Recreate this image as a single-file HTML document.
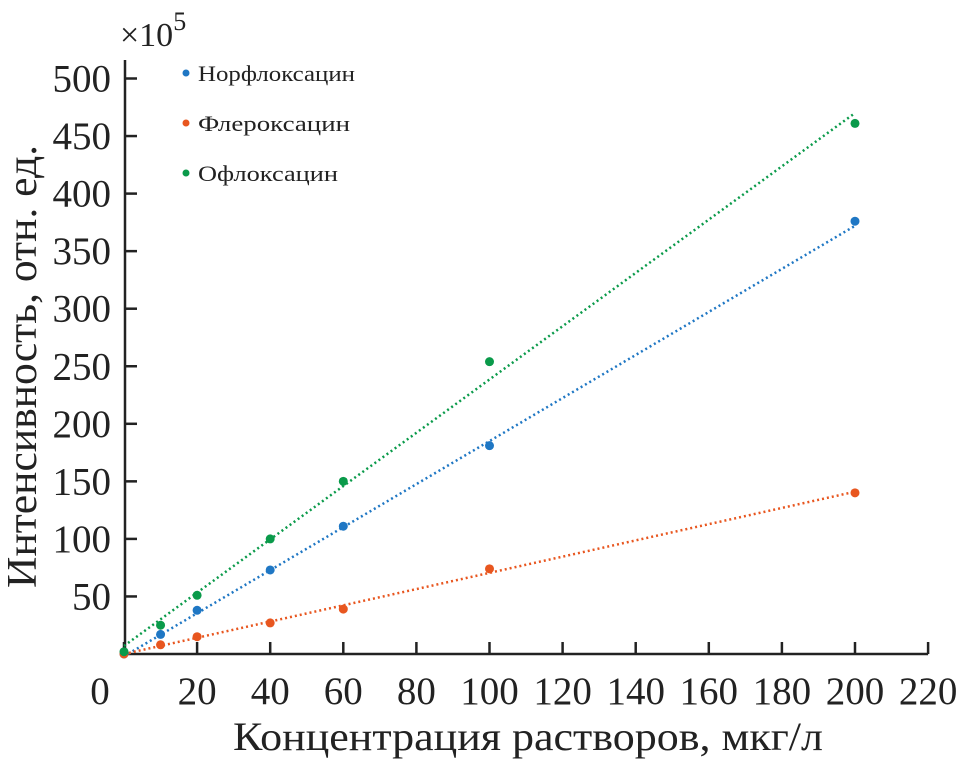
<!DOCTYPE html>
<html><head><meta charset="utf-8"><style>
body{margin:0;background:#fff}
svg text{font-family:"Liberation Serif",serif;fill:#222}
</style></head><body>
<svg width="965" height="761">
<g id="axes"></g><g id="marks"></g>
</svg>
<script>
const xTicks=[0,20,40,60,80,100,120,140,160,180,200,220];
const yTicks=[50,100,150,200,250,300,350,400,450,500];
const xVals=[0,10,20,40,60,100,200];
const norflox=[0,17,38,73,111,181,376];
const flerox=[0,8,15,27,39,74,140];
const oflox=[2,25,51,100,150,254,461];
const seriesNames=["Норфлоксацин","Флероксацин","Офлоксацин"];
const legendWidths=[157,152,140];
const colors=["#1f77c4","#e8561f","#0a9a4a"];
const fitStart=[-2,0,7];
const fitEnd=[372,141,470];
const X=v=>124+v*3.655, Y=v=>654-v*1.151;
const ns="http://www.w3.org/2000/svg";
function mk(tag,attrs,parent,txt){const e=document.createElementNS(ns,tag);for(const k in attrs)e.setAttribute(k,attrs[k]);if(txt!==undefined)e.textContent=txt;parent.appendChild(e);return e;}
const ax=document.getElementById('axes'),mg=document.getElementById('marks');
let e=mk('path',{d:`M125,60V654H${X(220)}`,stroke:'#222','stroke-width':2.5,fill:'none'},ax);


xTicks.forEach(t=>{
 e=mk('line',{x1:X(t),x2:X(t),y1:654,y2:642,stroke:'#222','stroke-width':2.5},ax);
 
 
 e=mk('text',{x:X(t)-(t===0?24:0),y:704,'font-size':39,'text-anchor':'middle'},ax,String(t));
 
 
});
yTicks.forEach(t=>{
 e=mk('line',{x1:125,x2:137,y1:Y(t),y2:Y(t),stroke:'#222','stroke-width':2.5},ax);
 
 
 e=mk('text',{x:111,y:Y(t)+13,'font-size':39,'text-anchor':'end'},ax,String(t));
 
 
});
e=mk('text',{x:233,y:750,'font-size':40,textLength:590,lengthAdjust:'spacingAndGlyphs'},ax,'Концентрация растворов, мкг/л');


e=mk('text',{x:0,y:0,'font-size':42,textLength:443,lengthAdjust:'spacingAndGlyphs',transform:'translate(36,588) rotate(-90)'},ax,'Интенсивность, отн. ед.');


e=mk('text',{x:120,y:46,'font-size':34},ax,'×10');


mk('tspan',{dy:-16,'font-size':26},e,'5');
[norflox,flerox,oflox].forEach((s,i)=>{
 e=mk('line',{x1:X(0),y1:Y(fitStart[i]),x2:X(200),y2:Y(fitEnd[i]),stroke:colors[i],'stroke-width':2.5,'stroke-dasharray':'2 3'},mg);
 
 
 s.forEach((v,j)=>{
  e=mk('circle',{cx:X(xVals[j]),cy:Y(v),r:4.5,fill:colors[i]},mg);
  
  
 });
 const ly=75+i*50;
 e=mk('circle',{cx:186,cy:ly-2,r:3.5,fill:colors[i]},mg);
 
 
 e=mk('text',{x:198,y:ly+6,'font-size':22,textLength:legendWidths[i],lengthAdjust:'spacingAndGlyphs'},mg,seriesNames[i]);
 
 
});
</script>
</body></html>
